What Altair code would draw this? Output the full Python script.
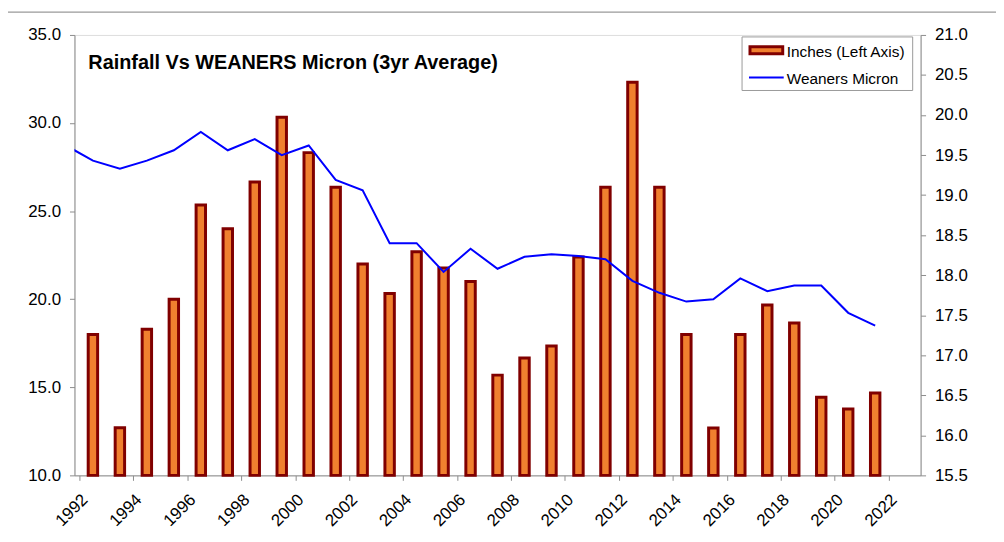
import altair as alt
import pandas as pd

years = list(range(1992, 2022))
rainfall = [18.0, 12.7, 18.3, 20.0, 25.35, 24.0, 26.65, 30.33, 28.32, 26.35,
            22.0, 20.32, 22.69, 21.77, 21.0, 15.69, 16.66, 17.34, 22.39, 26.35,
            32.31, 26.35, 18.0, 12.69, 18.0, 19.67, 18.65, 14.43, 13.77, 14.67]
micron_years = list(range(1991, 2022))
micron = [19.62, 19.43, 19.33, 19.43, 19.56, 19.79, 19.56, 19.70, 19.50, 19.62,
          19.19, 19.06, 18.40, 18.40, 18.04, 18.33, 18.08, 18.23, 18.26, 18.24,
          18.20, 17.93, 17.78, 17.67, 17.70, 17.96, 17.80, 17.87, 17.87, 17.53, 17.37]
x_ticks = list(range(1992, 2023, 2))
left_ticks = [10, 15, 20, 25, 30, 35]
right_ticks = [15.5, 16.0, 16.5, 17.0, 17.5, 18.0, 18.5, 19.0, 19.5, 20.0, 20.5, 21.0]
title_text = "Rainfall Vs WEANERS Micron (3yr Average)"
legend_labels = ["Inches (Left Axis)", "Weaners Micron"]

FONT = "Liberation Sans"
AX_GRAY = "#8c8c8c"
ORANGE = "#F0802F"
DARKRED = "#800000"
BLUE = "#0000FF"

rain_df = pd.DataFrame({"year": years, "rain": rainfall})
mic_df = pd.DataFrame({"year": micron_years, "micron": micron})

xscale = alt.Scale(domain=[1992, 2023], nice=False, zero=False)
xaxis = alt.Axis(values=x_ticks, format="d", labelAngle=315, labelAlign="center",
                 labelBaseline="middle", labelPadding=30, labelOffset=-8,
                 labelFontSize=17, labelFont=FONT, labelColor="black",
                 tickSize=5, tickColor=AX_GRAY, labelOverlap=False, labelBound=False,
                 domainColor=AX_GRAY, grid=False, title=None)

bars = alt.Chart(rain_df).transform_calculate(
    mid="datum.year + 0.5"
).mark_bar(size=9.5, fill=ORANGE, stroke=DARKRED, strokeWidth=3).encode(
    x=alt.X("mid:Q", scale=xscale, axis=xaxis),
    y=alt.Y("rain:Q", scale=alt.Scale(domain=[10, 35], nice=False, zero=False),
            axis=alt.Axis(orient="left", values=left_ticks, format=".1f",
                          labelFontSize=17, labelFont=FONT, labelColor="black",
                          tickSize=5, tickColor=AX_GRAY, domainColor=AX_GRAY,
                          labelPadding=9, grid=False, title=None)),
    y2=alt.datum(10),
)

line = alt.Chart(mic_df).transform_calculate(
    mid="datum.year + 0.5"
).mark_line(color=BLUE, strokeWidth=2, clip=True).encode(
    x=alt.X("mid:Q", scale=xscale),
    y=alt.Y("micron:Q", scale=alt.Scale(domain=[15.5, 21.0], nice=False, zero=False),
            axis=alt.Axis(orient="right", values=right_ticks, format=".1f",
                          labelFontSize=17, labelFont=FONT, labelColor="black",
                          tickSize=5, tickColor=AX_GRAY, domainColor=AX_GRAY,
                          labelPadding=9, grid=False, title=None)),
)

anchor = pd.DataFrame({"k": [0]})

title = alt.Chart(anchor).mark_text(
    text=title_text, font=FONT, fontSize=20, fontWeight="bold", align="left",
    baseline="alphabetic", color="black"
).encode(x=alt.value(14), y=alt.value(34))

frame_top = alt.Chart(anchor).mark_rule(color="#9a9a9a", strokeWidth=1.5, clip=False).encode(
    x=alt.value(-67), x2=alt.value(929), y=alt.value(-23))

leg_box = alt.Chart(anchor).mark_rect(fill="white", stroke="#9a9a9a", strokeWidth=1).encode(
    x=alt.value(673), x2=alt.value(845), y=alt.value(2), y2=alt.value(56))
leg_bar = alt.Chart(anchor).mark_rect(fill=ORANGE, stroke=DARKRED, strokeWidth=3).encode(
    x=alt.value(681), x2=alt.value(714), y=alt.value(12), y2=alt.value(19))
leg_line = alt.Chart(anchor).mark_rule(color=BLUE, strokeWidth=2).encode(
    x=alt.value(680), x2=alt.value(715), y=alt.value(43))
leg_t1 = alt.Chart(anchor).mark_text(
    text=legend_labels[0], font=FONT, fontSize=15.5, align="left", baseline="alphabetic",
    color="black").encode(x=alt.value(718), y=alt.value(22))
leg_t2 = alt.Chart(anchor).mark_text(
    text=legend_labels[1], font=FONT, fontSize=15.5, align="left", baseline="alphabetic",
    color="black").encode(x=alt.value(718), y=alt.value(49))

chart = alt.layer(
    frame_top, bars, line, title, leg_box, leg_bar, leg_line, leg_t1, leg_t2
).resolve_scale(y="independent").properties(
    width=853, height=444,
    autosize=alt.AutoSizeParams(type="none"),
    padding={"left": 67, "top": 25, "right": 76, "bottom": 65},
).configure_view(stroke=None).configure(background="white")

chart.save("out.html", embed_options={"renderer": "svg", "actions": False})
